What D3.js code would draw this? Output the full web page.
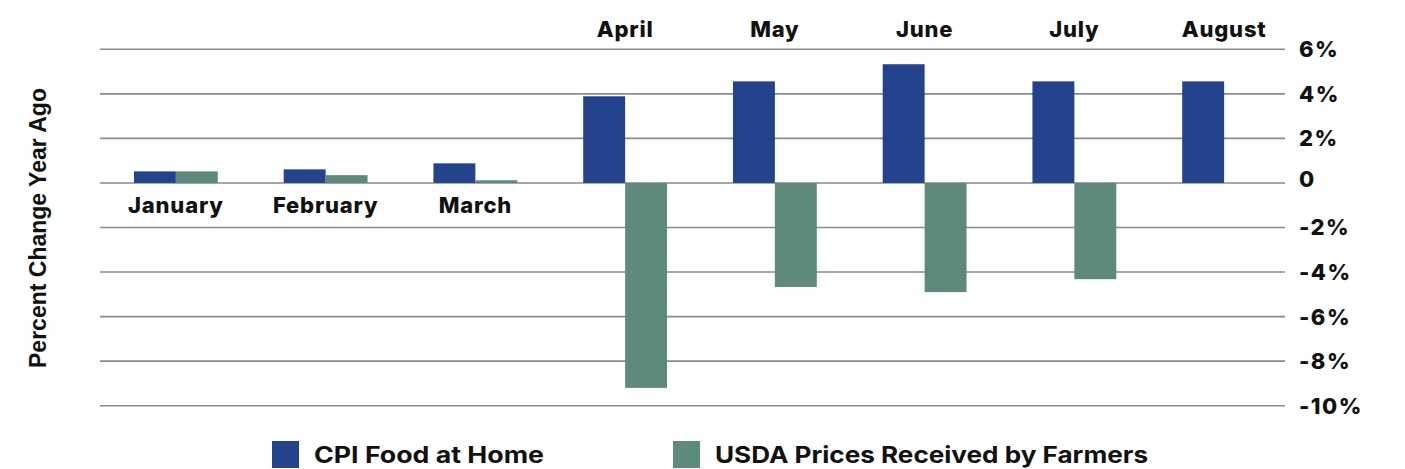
<!DOCTYPE html>
<html lang="en">
<head>
    <meta charset="UTF-8">
    <title>Food Prices</title>
    <script src="https://cdn.jsdelivr.net/npm/d3@7"></script>
    <style>
        body { margin: 0; background: #ffffff; }
        text { font-family: Inter, Lato, sans-serif; font-weight: 800; fill: #111; }
    </style>
</head>
<body>
<div id="container"></div>
<script>

    // data
    const months = ["January", "February", "March", "April", "May", "June", "July", "August"];
    const cpiFood = [0.52, 0.61, 0.88, 3.89, 4.56, 5.33, 4.56, 4.56];
    const usdaFarm = [0.52, 0.35, 0.12, -9.2, -4.67, -4.9, -4.32, null];
    const yTicks = [6, 4, 2, 0, -2, -4, -6, -8, -10];
    const seriesNames = ["CPI Food at Home", "USDA Prices Received by Farmers"];
    const colors = ["#23438c", "#5e8a7e"];

    let svg = d3.select("#container")
        .append("svg")
        .attr("width", 1405)
        .attr("height", 469);

    let gridLeft = 100, gridRight = 1285;

    let x = d3.scaleBand()
        .domain(months)
        .range([101, 1299])
        .paddingInner(0.44)
        .paddingOuter(0.22);

    let y = d3.scaleLinear()
        .domain([-10, 6])
        .range([405.7, 49.3]);

    // gridlines
    svg.append("g")
        .selectAll("line")
        .data(yTicks)
        .join("line")
        .attr("x1", gridLeft)
        .attr("x2", gridRight)
        .attr("y1", d => y(d))
        .attr("y2", d => y(d))
        .style("stroke", "#8a8a8a")
        .style("stroke-width", "1.6px");

    // y tick labels on the right
    svg.append("g")
        .selectAll("text")
        .data(yTicks)
        .join("text")
        .attr("x", 1299)
        .attr("y", d => y(d) + (d === 0 ? -4 : 0))
        .attr("dy", "0.36em")
        .style("font-size", "22px")
        .style("letter-spacing", "1.5px")
        .text(d => d === 0 ? "0" : d + "%");

    // bars
    let bw = x.bandwidth() / 2;
    let groups = svg.append("g")
        .selectAll("g")
        .data(months)
        .join("g")
        .attr("transform", d => "translate(" + x(d) + ",0)");

    [cpiFood, usdaFarm].forEach((vals, s) => {
        groups.filter((d, i) => vals[i] !== null)
            .append("rect")
            .attr("x", s * bw)
            .attr("width", bw)
            .attr("y", d => y(Math.max(0, vals[months.indexOf(d)])))
            .attr("height", d => Math.abs(y(vals[months.indexOf(d)]) - y(0)))
            .attr("fill", colors[s]);
    });

    // month labels: below zero for first three, top for others
    svg.append("g")
        .selectAll("text")
        .data(months)
        .join("text")
        .attr("x", d => x(d) + x.bandwidth() / 2)
        .attr("y", (d, i) => i < 3 ? 213 : 37)
        .attr("text-anchor", "middle")
        .style("font-size", "22px")
        .style("letter-spacing", "0.8px")
        .text(d => d);

    // axis title
    svg.append("text")
        .attr("transform", "translate(46,228) rotate(-90)")
        .attr("text-anchor", "middle")
        .style("font-family", "'Liberation Sans', Arial, sans-serif")
        .style("font-weight", "700")
        .style("font-size", "23px")
        .text("Percent Change Year Ago");

    // legend
    let legendX = [272, 673];
    let legendW = [230, 433];
    seriesNames.forEach((name, i) => {
        svg.append("rect")
            .attr("x", legendX[i])
            .attr("y", 441)
            .attr("width", 27)
            .attr("height", 27)
            .attr("fill", colors[i]);
        svg.append("text")
            .attr("x", legendX[i] + 42)
            .attr("y", 463)
            .attr("textLength", legendW[i])
            .attr("lengthAdjust", "spacingAndGlyphs")
            .style("font-size", "23px")
            .style("font-weight", "700")
            .text(name);
    });

</script>
</body>
</html>
